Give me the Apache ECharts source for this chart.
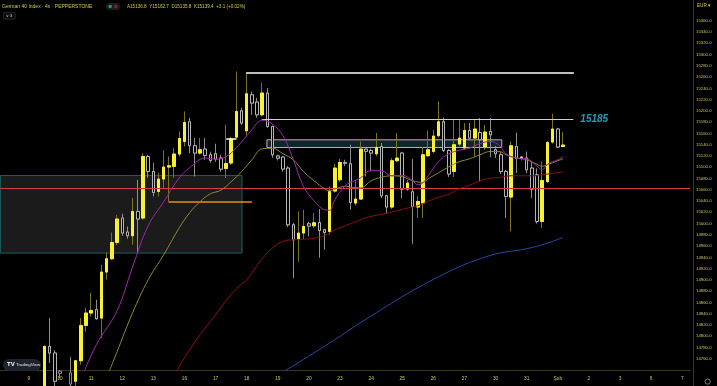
<!DOCTYPE html>
<html><head><meta charset="utf-8">
<script src="https://cdn.jsdelivr.net/npm/echarts@6/dist/echarts.min.js"></script>
<style>html,body{margin:0;padding:0;background:#000;}#c{width:717px;height:386px;}</style>
</head><body><div id="c"></div>
<script>
// ---------- data ----------
const dayLabels = ['9','10','11','12','13','16','17','18','19','20','23','24','25','26','27','30','31','Şub','2','3','6','7'];
const nSlots = 133;      // bars on the visible time scale (incl. empty future)
const firstDaySlot = 5;  // bar index of first labelled day
const barsPerDay = 6;
// candles (index = bar slot), null = not drawn / off scale
const opens = [null,null,null,null,null,null,null,null,
14700,14781.8,14770.1,14738,14725,14735,14720,14756.4,14819.1,14841.1,14847.0,14832.2,
14913.9,14937.5,14966.4,15009.8,14984.9,14978.3,15021.5,15009.8,15119.1,15092.5,
15057.0,15079.0,15100.3,15101.4,15123.4,15145.7,15180.7,15138.1,15125.1,15132.2,
15122.1,15123.9,15116.3,15097.8,15107.4,15153.5,15200.2,15164.7,15228.6,15215.7,
15193.1,15231.7,15172.4,15120,15118.0,15098.5,14997.9,14972.5,14983.1,14999.6,
14996.1,15001.9,14989.0,14986.0,15057.7,15077.7,15108.5,15106.2,15036.4,15043.5,
15132.2,15129.8,15123.9,15136.9,15049.3,15029.3,15111.5,15125.1,15061.2,15056.4,
15029.3,15036.4,15120.4,15128.0,15155.9,15180.7,15129.8,15092.5,15141.1,15134.0,
15165.3,15151.8,15161.7,15135.8,15163.5,15131.0,15122.1,15092.5,15047.0,15136.9,
15115.6,15116.3,15098.5,15086.6,15003.7,15074.7,15144.7,15167.8,15136.8];
const highs = [null,null,null,null,null,null,null,null,
14784,14832.2,14775,14740,14732,14763.5,14758,14832.2,14850.5,14877.1,14864.7,14926.8,
14948.7,14984.2,15015.6,15017.4,14994.8,15045.3,15077.7,15125.1,15122,15107.9,
15090.2,15129.8,15119.1,15134.0,15163.5,15199.0,15187.8,15151.8,15152,15151.8,
15127.5,15141.7,15122.1,15175.4,15154,15270.0,15205.5,15268.2,15234.5,15223.3,
15250.5,15240.5,15174,15122,15120,15102,15001,15021.5,15024.5,15003,
15018.6,15025.7,14991,15065.9,15106.2,15115,15113.3,15140,15077.7,15145.7,
15136,15133,15160.7,15143,15051,15116.3,15160.7,15127.5,15077.7,15114.5,
15049,15135.8,15165.3,15166.5,15216.8,15188,15132,15184.3,15185.5,15178.4,
15178.4,15185.5,15187.3,15175,15187.3,15138,15128,15095,15145.7,15161.7,
15120,15128.0,15110.2,15098,15110.2,15146,15194.9,15170,15162.7];
const lows = [null,null,null,null,null,null,null,null,
14690,14752.3,14710,14725,14705,14700,14710,14749.3,14808.4,14835.1,14829.2,14796.7,
14900.2,14935,14962,14978,14973.0,14962.4,14947.6,15006.7,15081.3,15048.1,
15048.1,15063.5,15039.2,15080.8,15119.1,15136.9,15125.1,15083.6,15122.1,15113.3,
15108,15109.7,15091.9,15080.8,15104,15148.8,15175,15155.9,15193.1,15188,
15190,15170,15116.8,15112,15092,14994,14903.2,14932.2,14972.5,14977.1,
14992,14939.3,14953.5,14980.1,15055,15074,15102,15024.5,15032,15042,
15083.6,15092.5,15120,15045,15018.6,15026,15109,15045.3,15058,14964.1,
15009.8,15009.8,15118,15125,15153,15127,15082.5,15082.5,15138,15131,
15148,15119.1,15074.7,15131,15118,15116.3,15088,15009.8,14986.0,15089.6,
15112,15089.6,15045.3,15000,14992.0,15072,15142,15134,15135.8];
const closes = [null,null,null,null,null,null,null,null,
14781.8,14770.1,14720,14734,14715,14715,14756.4,14819.1,14841.1,14845.7,14831.0,14913.9,
14937.5,14966.4,15008.0,14983.1,14978.3,15021.5,15008.0,15119.1,15092.5,15055.2,
15079.0,15100.3,15102.6,15123.4,15151.1,15179.5,15138.1,15125.1,15131.0,15120.9,
15112.0,15114.5,15096.7,15106.7,15150.0,15199.0,15178.4,15230.4,15213.9,15193.1,
15231.7,15172.4,15122.1,15116,15096.7,14997.9,14971.2,14983.1,14994.8,14995.5,
15001.4,14987.7,14984.2,15057.0,15098.5,15108.5,15107.0,15037.4,15043.5,15132.2,
15128.3,15125.1,15135.1,15049.3,15029.3,15111.5,15116.3,15061.2,15071.9,15030.3,
15039.2,15122.1,15131.0,15155.3,15180.7,15129.8,15087.9,15139.9,15151.8,15165.3,
15151.8,15167.8,15148.8,15162.4,15157.6,15123.9,15092.5,15048.1,15138.1,15116.3,
15118.0,15095.5,15061.2,15003.7,15076.5,15144.0,15167.8,15135.8,15139.4];
// moving averages: [bar slot, price]
const maFast = [[15,14722.6],[18,14784.8],[22,14845.2],[25,14923.3],[28,14996.1],[31,15038.7],[34,15081.3],[36,15099.0],[39,15116.3],[41,15114.1],[43,15118.6],[45,15134.5],[48,15166.5],[50,15183.4],[52,15176.3],[54,15155.8],[56,15113.2],[58,15065.3],[60,15040.4],[62,15024.5],[63,15023.6],[64,15042.2],[66,15067.1],[68,15076.9],[69,15081.3],[71,15094.6],[73,15093.7],[75,15084.8],[77,15085.7],[79,15076.0],[80,15068.9],[81,15072.4],[82,15084.8],[84,15109.7],[86,15123.9],[88,15130.1],[90,15134.0],[92,15142.0],[94,15145.7],[95,15143.4],[96,15136.3],[97,15123.9],[99,15116.3],[101,15115.0],[103,15101.7],[104,15095.5],[105,15105.2],[106,15109.7],[107,15113.2],[108,15118.9]];
const maMid = [[20,14726],[22,14772.4],[25,14841.6],[28,14900.2],[31,14944.6],[34,14992.5],[36,15019.1],[38,15038.7],[40,15052.9],[42,15059.1],[44,15074.2],[46,15092.0],[48,15113.2],[50,15132.8],[52,15133.6],[54,15123.9],[56,15113.2],[58,15091.9],[60,15076.0],[62,15061.8],[63,15058.2],[64,15060.9],[66,15066.2],[68,15063.5],[69,15063.5],[71,15076.0],[73,15082.2],[75,15084.8],[77,15083.1],[79,15076.0],[81,15073.0],[82,15079.5],[84,15090.1],[86,15100.8],[88,15109.7],[90,15115.0],[92,15122.1],[94,15128.0],[96,15127.4],[97,15122.1],[99,15116.8],[101,15113.2],[103,15105.2],[104,15101.7],[105,15104.4],[106,15107.9],[108,15114.9]];
const maSlow = [[33,14729.8],[35,14761.7],[38,14802.6],[41,14838.1],[43,14862.9],[45,14884.2],[47,14900.2],[48,14912.6],[50,14937.5],[52,14957.0],[54,14968.5],[56,14971.2],[58,14972.1],[60,14973.9],[62,14978.3],[64,14988.9],[66,14996.1],[68,15003.2],[70,15010.3],[72,15014.7],[74,15018.3],[76,15022.7],[78,15027.5],[80,15031.6],[82,15039.6],[84,15046.7],[86,15052.0],[88,15061.8],[90,15068.0],[92,15076.0],[94,15080.4],[96,15082.2],[98,15084.8],[100,15084.8],[102,15084.8],[104,15086.6],[106,15089.3],[108,15091.4]];
const maLong = [[54,14736.9],[56,14747.5],[60,14770.6],[64,14793.7],[68,14818.5],[72,14841.6],[76,14864.7],[80,14886.0],[84,14905.5],[88,14923.3],[92,14937.5],[96,14948.1],[100,14953.5],[104,14962.3],[108,14975.1]];
// drawn levels
const topLevel = 15268.2, level15185 = 15185.5, redLevel = 15061.9, orangeLevel = 15039.2, whiteDash = 15150.0;
const pinkZone = [15148.7, 15135.1];
const greyZone = [15085.4, 14947.6];
const lastPrice = 15139.4, lastCountdown = '04:11', offScalePrice = 14728.8;
const yMin = 14740, yMax = 15396.9, yStep = 20, yLabelLow = 14760, yLabelHigh = 15360;

// ---------- build ----------
const categories = Array.from({length: nSlots}, (_, j) => {
  const d = (j - firstDaySlot) / barsPerDay;
  return (j >= firstDaySlot && Number.isInteger(d) && d < dayLabels.length) ? dayLabels[d] : '';
});
const empty = ['-','-','-','-'];
const full = opens.map((o, i) => o == null ? empty : [o, closes[i], lows[i], highs[i]]);
const bodies = opens.map((o, i) => o == null ? empty : [o, closes[i], Math.min(o, closes[i]), Math.max(o, closes[i])]);

const TXT = '#d2c65a';
const FONT = 'Liberation Sans';
const tagLabel = (text, bg, fg, offset) => ({show: true, position: 'end', distance: 3, formatter: text, backgroundColor: bg, color: fg,
    fontSize: 4.6, fontFamily: FONT, padding: [1.6, 2, 1.2, 2], width: 20, align: 'left', lineHeight: 5, offset: offset || [0, 0]});
const tag = (value, text, bg, fg, offset) => ({yAxis: value, lineStyle: {opacity: 0}, label: tagLabel(text, bg, fg, offset)});

const chart = echarts.init(document.getElementById('c'), null, {renderer: 'canvas'});
chart.setOption({
  backgroundColor: '#000',
  animation: false,
  grid: {left: 0, right: 27, top: 0, bottom: 16, containLabel: false},
  xAxis: [{
    type: 'category', data: categories, boundaryGap: true,
    axisLine: {onZero: false, lineStyle: {color: '#3a381c'}}, axisTick: {show: false},
    axisLabel: {interval: 0, color: TXT, fontSize: 4.8, fontFamily: FONT, margin: 6},
    splitLine: {show: false}
  }, {
    type: 'value', min: -0.5, max: nSlots - 0.5, show: false,
    axisLine: {onZero: false}, splitLine: {show: false}
  }],
  yAxis: {
    type: 'value', position: 'right', offset: 3, min: yMin, max: yMax, interval: yStep, scale: true,
    axisLine: {show: true, onZero: false, lineStyle: {color: '#3a381c'}}, axisTick: {show: false},
    splitLine: {show: false},
    axisLabel: {color: TXT, fontSize: 4.3, fontFamily: FONT, margin: 3, showMaxLabel: false, showMinLabel: false,
      formatter: v => (v >= yLabelLow && v <= yLabelHigh) ? v.toFixed(1) : ''}
  },
  series: [
    { // zones
      type: 'line', xAxisIndex: 1, data: [], z: 1, silent: true,
      markArea: {silent: true, data: [
        [{coord: [-0.5, greyZone[0]], itemStyle: {color: '#1b1b1b', borderColor: '#1d5f62', borderWidth: 1}}, {coord: [46.1, greyZone[1]]}],
        [{coord: [50.9, pinkZone[0]], itemStyle: {color: '#0c2629', borderColor: '#e39ac0', borderWidth: 1}}, {coord: [96.2, pinkZone[1]]}]
      ]}
    },
    {type: 'candlestick', data: full, barWidth: 3, z: 3, silent: true,
      itemStyle: {color: '#7a7320', color0: '#000', borderColor: '#7a7320', borderColor0: '#8e8e8e', borderWidth: 1}},
    {type: 'candlestick', data: bodies, barWidth: 3, z: 4, silent: true,
      itemStyle: {color: '#f8f032', color0: '#000', borderColor: '#f8f032', borderColor0: '#b4b4b4', borderWidth: 1}},
    {type: 'line', xAxisIndex: 1, data: maLong, smooth: 0.4, showSymbol: false, z: 5, lineStyle: {color: '#2a46a8', width: 1}, silent: true},
    {type: 'line', xAxisIndex: 1, data: maSlow, smooth: 0.4, showSymbol: false, z: 5, lineStyle: {color: '#8c1010', width: 1}, silent: true},
    {type: 'line', xAxisIndex: 1, data: maMid, smooth: 0.4, showSymbol: false, z: 5, lineStyle: {color: '#8d8736', width: 1}, silent: true},
    {type: 'line', xAxisIndex: 1, data: maFast, smooth: 0.4, showSymbol: false, z: 5, lineStyle: {color: '#9b2aa8', width: 1}, silent: true},
    { // drawn lines
      type: 'line', xAxisIndex: 1, data: [], z: 6, silent: true,
      markLine: {silent: true, symbol: ['none', 'none'], animation: false, data: [
        [{coord: [46.9, topLevel], lineStyle: {color: '#ffffff', width: 1.5, type: 'solid'}, label: {show: false}}, {coord: [110.1, topLevel]}],
        [{coord: [49.9, level15185], lineStyle: {color: '#cfcfcf', width: 1, type: 'solid'},
          label: {show: true, position: 'end', distance: 7, formatter: '15185', color: '#1f9fb3', fontSize: 10, fontStyle: 'italic', fontWeight: 'bold', fontFamily: FONT}},
         {coord: [110.0, level15185]}],
        [{coord: [31.94, orangeLevel], lineStyle: {color: '#f08a10', width: 1.5, type: 'solid'}, label: {show: false}}, {coord: [48.0, orangeLevel]}],
        [{coord: [43.06, whiteDash], lineStyle: {color: '#ffffff', width: 1.5, type: 'solid'}, label: {show: false}}, {coord: [44.93, whiteDash]}],
        {yAxis: redLevel, lineStyle: {color: '#d93a46', width: 1, type: 'solid'}, label: {show: false}}
      ]}
    },
    { // price tags on the scale
      type: 'line', data: [], z: 10, silent: true,
      markLine: {silent: true, symbol: ['none', 'none'], animation: false, data: [
        tag(lastPrice, lastPrice.toFixed(1) + '\n' + lastCountdown, '#f4ec3a', '#000'),
        tag(maFast[maFast.length - 1][1], '15118.9', '#c238c8', '#000'),
        tag(maMid[maMid.length - 1][1], '15114.9', '#e9e36a', '#000', [0, 5]),
        tag(maSlow[maSlow.length - 1][1], '15091.4', '#e00000', '#fff'),
        tag(redLevel, redLevel.toFixed(1), '#f0445a', '#fff'),
        tag(maLong[maLong.length - 1][1], '14975.1', '#2962ff', '#fff'),
        tag(yMin + 1, offScalePrice.toFixed(1), '#f59a0c', '#000', [0, 3.5])
      ]}
    }
  ],
  graphic: [
    {type: 'text', left: 2, top: 4, z: 20, style: {text: 'German 40 Index · 4s · PEPPERSTONE', fill: TXT, font: '5px "Liberation Sans"'}},
    {type: 'rect', left: 106, top: 3, z: 20, shape: {width: 14, height: 7, r: 3.5}, style: {fill: '#1c1c1c'}},
    {type: 'circle', left: 108.5, top: 4.8, z: 21, shape: {r: 1.7}, style: {fill: '#1aa08f'}},
    {type: 'circle', left: 114, top: 4.8, z: 21, shape: {r: 1.7}, style: {fill: '#8a1c3a'}},
    {type: 'text', left: 127, top: 4, z: 20, style: {text: 'A15136.8  Y15162.7  D15135.8  K15139.4  +3.1 (+0.02%)', fill: TXT, font: '4.6px "Liberation Sans"'}},
    {type: 'rect', left: 3, top: 12, z: 20, shape: {width: 12, height: 7, r: 1.5}, style: {fill: '#0c0c0c', stroke: '#3a3a3a', lineWidth: 0.6}},
    {type: 'text', left: 5.5, top: 13.3, z: 21, style: {text: '∨ 3', fill: '#cfcfcf', font: '4.4px "Liberation Sans"'}},
    {type: 'text', left: 697, top: 3, z: 20, style: {text: 'EUR ▾', fill: TXT, font: '4.6px "Liberation Sans"'}},
    {type: 'rect', left: 3, top: 359, z: 20, shape: {width: 38, height: 12, r: 6}, style: {fill: '#1e222d'}},
    {type: 'text', left: 7, top: 361.5, z: 21, style: {text: 'TV', fill: '#ffffff', font: 'bold 6px "Liberation Sans"'}},
    {type: 'text', left: 16, top: 362.8, z: 21, style: {text: 'TradingView', fill: '#e6e6e6', font: '4.4px "Liberation Sans"'}},
    {type: 'line', z: 20, shape: {x1: 693.5, y1: 370, x2: 693.5, y2: 386}, style: {stroke: '#3a381c', lineWidth: 1}},
    {type: 'circle', left: 702.5, top: 376.5, z: 20, shape: {r: 2.6}, style: {fill: 'none', stroke: '#9a9a9a', lineWidth: 0.8}}
  ]
});
</script></body></html>
